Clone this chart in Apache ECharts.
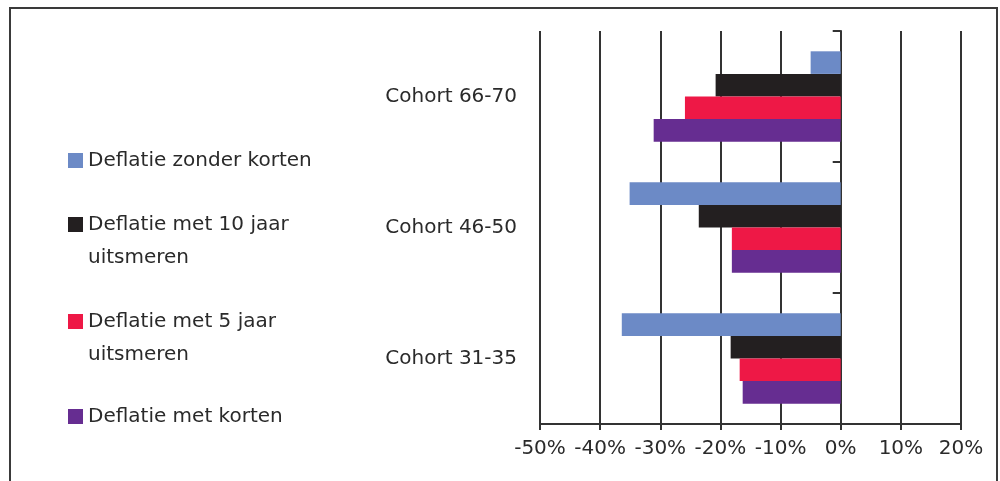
<!DOCTYPE html>
<html>
<head>
<meta charset="utf-8">
<style>
  html, body { margin: 0; padding: 0; background: #fff; }
  #chart { width: 1000px; height: 481px; }
</style>
<script src="https://cdn.jsdelivr.net/npm/echarts@6/dist/echarts.min.js"></script>
</head>
<body>
<div id="chart"></div>
<script>
// Cohorts, bottom to top on the category axis
const cohorts = ['Cohort 31-35', 'Cohort 46-50', 'Cohort 66-70'];

// Series names (legend text) and colours
const seriesNames = [
  'Deflatie zonder korten',
  'Deflatie met 10 jaar\nuitsmeren',
  'Deflatie met 5 jaar\nuitsmeren',
  'Deflatie met korten'
];
const seriesColors = ['#6c8ac6', '#231f20', '#ee1846', '#662d91'];

// Change in percent per cohort (31-35, 46-50, 66-70)
const zonderKorten   = [-36.4, -35.1, -5.0];
const tienJaar       = [-18.3, -23.6, -20.8];
const vijfJaar       = [-16.8, -18.1, -25.9];
const metKorten      = [-16.3, -18.1, -31.1];
const seriesValues = [zonderKorten, tienJaar, vijfJaar, metKorten];

// Axis ticks
const xMin = -50, xMax = 20, xStep = 10;

const FONT = 'DejaVu Sans';
const TEXT = '#2a2a2a';
const LINE = '#333333';

const chart = echarts.init(document.getElementById('chart'), null, { renderer: 'canvas' });

// One legend block per series, stacked down the left side.
// Two-line names get an empty leading line so the first line sits beside the swatch.
const legendTops = [144, 175, 272, 400];
const legends = seriesNames.map((name, i) => ({
  orient: 'vertical',
  left: 68,
  top: legendTops[i],
  padding: 0,
  icon: 'rect',
  itemWidth: 15,
  itemHeight: 15,
  data: [name],
  formatter: n => (n.indexOf('\n') >= 0 ? '\n' + n : n),
  textStyle: {
    fontFamily: FONT,
    fontSize: 20,
    color: TEXT,
    lineHeight: 33
  }
}));

const option = {
  animation: false,
  backgroundColor: '#ffffff',
  legend: legends,
  grid: { left: 540, right: 39, top: 31, bottom: 57, containLabel: false },
  xAxis: {
    type: 'value',
    min: xMin,
    max: xMax,
    interval: xStep,
    axisLine: { show: true, lineStyle: { color: LINE, width: 2 } },
    axisTick: { show: true, length: 6, lineStyle: { color: LINE, width: 2 } },
    splitLine: { show: true, lineStyle: { color: LINE, width: 2 } },
    axisLabel: {
      formatter: '{value}%',
      fontFamily: FONT,
      fontSize: 20,
      color: TEXT,
      margin: 15
    }
  },
  yAxis: {
    type: 'category',
    data: cohorts,
    axisLine: { show: true, onZero: true, lineStyle: { color: LINE, width: 2 } },
    axisTick: { show: true, length: 8, lineStyle: { color: LINE, width: 2 } },
    axisLabel: {
      fontFamily: FONT,
      fontSize: 20,
      color: TEXT,
      margin: 23
    }
  },
  series: seriesNames.map((name, i) => ({
    name: name,
    type: 'bar',
    data: seriesValues[i],
    barGap: '0%',
    barCategoryGap: '31%',
    itemStyle: { color: seriesColors[i] }
  })),
  graphic: [{
    type: 'rect',
    shape: { x: 10, y: 8, width: 987, height: 520 },
    style: { fill: null, stroke: '#3a3a3a', lineWidth: 2 },
    silent: true,
    z: -1
  }]
};

chart.setOption(option);
</script>
</body>
</html>
